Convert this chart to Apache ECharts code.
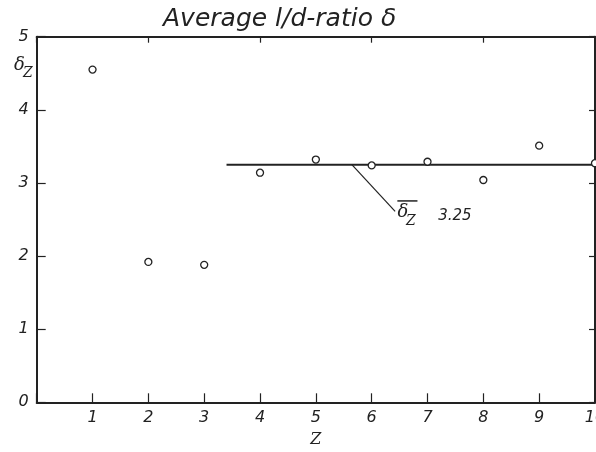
<!DOCTYPE html>
<html>
<head>
<meta charset="utf-8">
<script src="https://cdn.jsdelivr.net/npm/echarts@6/dist/echarts.min.js"></script>
<style>html,body{margin:0;padding:0;background:#fff;}#c{width:596px;height:452px;}</style>
</head>
<body>
<div id="c"></div>
<script>
// Data
const zValues = [1, 2, 3, 4, 5, 6, 7, 8, 9, 10];
const deltaValues = [4.55, 1.92, 1.88, 3.14, 3.32, 3.24, 3.29, 3.04, 3.51, 3.27];
const meanValue = 3.25;
const meanStartZ = 3.4;
const meanEndZ = 10;
const xTicks = ['1','2','3','4','5','6','7','8','9','10'];
const yTicks = ['0','1','2','3','4','5'];

const ink = '#222';
const sans = 'DejaVu Sans';
const serif = 'DejaVu Serif';

const chart = echarts.init(document.getElementById('c'), null, {renderer: 'canvas'});
const points = zValues.map((z, i) => [z, deltaValues[i]]);

const annotLabel = (text, family, size) => ({
  show: true, position: 'inside', formatter: text,
  fontFamily: family, fontStyle: 'italic', fontSize: size, color: ink,
  textBorderWidth: 0, opacity: 1
});

chart.setOption({
  animation: false,
  backgroundColor: '#fff',
  title: [
    {text: 'Average l/d-ratio δ', left: 158, top: 2,
     textStyle: {fontFamily: sans, fontStyle: 'italic', fontWeight: 'normal', fontSize: 25, color: ink}},
    {text: 'δ', left: 9, top: 51,
     textStyle: {fontFamily: serif, fontStyle: 'italic', fontWeight: 'normal', fontSize: 18, color: ink}},
    {text: 'Z', left: 18, top: 61,
     textStyle: {fontFamily: serif, fontStyle: 'italic', fontWeight: 'normal', fontSize: 14, color: ink}}
  ],
  grid: {left: 36.7, right: 1, top: 36.7, bottom: 49.7, containLabel: false, outerBoundsMode: 'none'},
  xAxis: [
    {type: 'value', min: 0, max: 10, interval: 1, position: 'bottom',
     name: 'Z', nameLocation: 'middle', nameGap: 30,
     nameTextStyle: {fontFamily: serif, fontStyle: 'italic', fontSize: 16, color: ink},
     axisLine: {show: true, lineStyle: {color: ink, width: 2}},
     axisTick: {show: true, inside: true, length: 9, lineStyle: {color: ink, width: 1.2}},
     axisLabel: {show: true, margin: 8, fontFamily: sans, fontStyle: 'italic', fontSize: 16, color: ink,
       hideOverlap: false,
       formatter: v => (v === 0 ? '' : xTicks[v - 1])},
     splitLine: {show: false}},
    {type: 'value', min: 0, max: 10, interval: 2, position: 'top',
     axisLine: {show: true, onZero: false, lineStyle: {color: ink, width: 2}},
     axisTick: {show: true, inside: true, length: 6, lineStyle: {color: ink, width: 1.2}},
     axisLabel: {show: false}, splitLine: {show: false}}
  ],
  yAxis: [
    {type: 'value', min: 0, max: 5, interval: 1, position: 'left',
     axisLine: {show: true, lineStyle: {color: ink, width: 2}},
     axisTick: {show: true, inside: true, length: 9, lineStyle: {color: ink, width: 1.2}},
     axisLabel: {show: true, margin: 8, fontFamily: sans, fontStyle: 'italic', fontSize: 16, color: ink,
       formatter: v => yTicks[v]},
     splitLine: {show: false}},
    {type: 'value', min: 0, max: 5, interval: 1, position: 'right',
     axisLine: {show: true, onZero: false, lineStyle: {color: ink, width: 2}},
     axisTick: {show: true, inside: true, length: 6, lineStyle: {color: ink, width: 1.2}},
     axisLabel: {show: false}, splitLine: {show: false}}
  ],
  series: [
    {type: 'line', name: 'mean', data: [[meanStartZ, meanValue], [meanEndZ, meanValue]],
     showSymbol: false, symbol: 'none', lineStyle: {color: ink, width: 2}, z: 2, silent: true},
    {type: 'line', name: 'leader', data: [[5.645, meanValue], [6.42, 2.61]],
     symbol: 'none', lineStyle: {color: ink, width: 1.2}, z: 2, silent: true},
    {type: 'line', name: 'overbar', data: [[6.46, 2.754], [6.82, 2.754]],
     symbol: 'none', lineStyle: {color: ink, width: 1.5}, z: 2, silent: true},
    {type: 'scatter', name: 'annot', symbolSize: 0, z: 3, silent: true,
     itemStyle: {opacity: 1},
     data: [
       {value: [6.56, 2.60], label: annotLabel('δ', serif, 18)},
       {value: [6.70, 2.47], label: annotLabel('Z', serif, 14)},
       {value: [7.49, 2.55], label: annotLabel(String(meanValue), sans, 15)}
     ]},
    {type: 'scatter', name: 'delta', data: points, symbol: 'circle', symbolSize: 7,
     itemStyle: {color: '#fff', borderColor: ink, borderWidth: 1.3, opacity: 1}, z: 4}
  ]
});
</script>
</body>
</html>
